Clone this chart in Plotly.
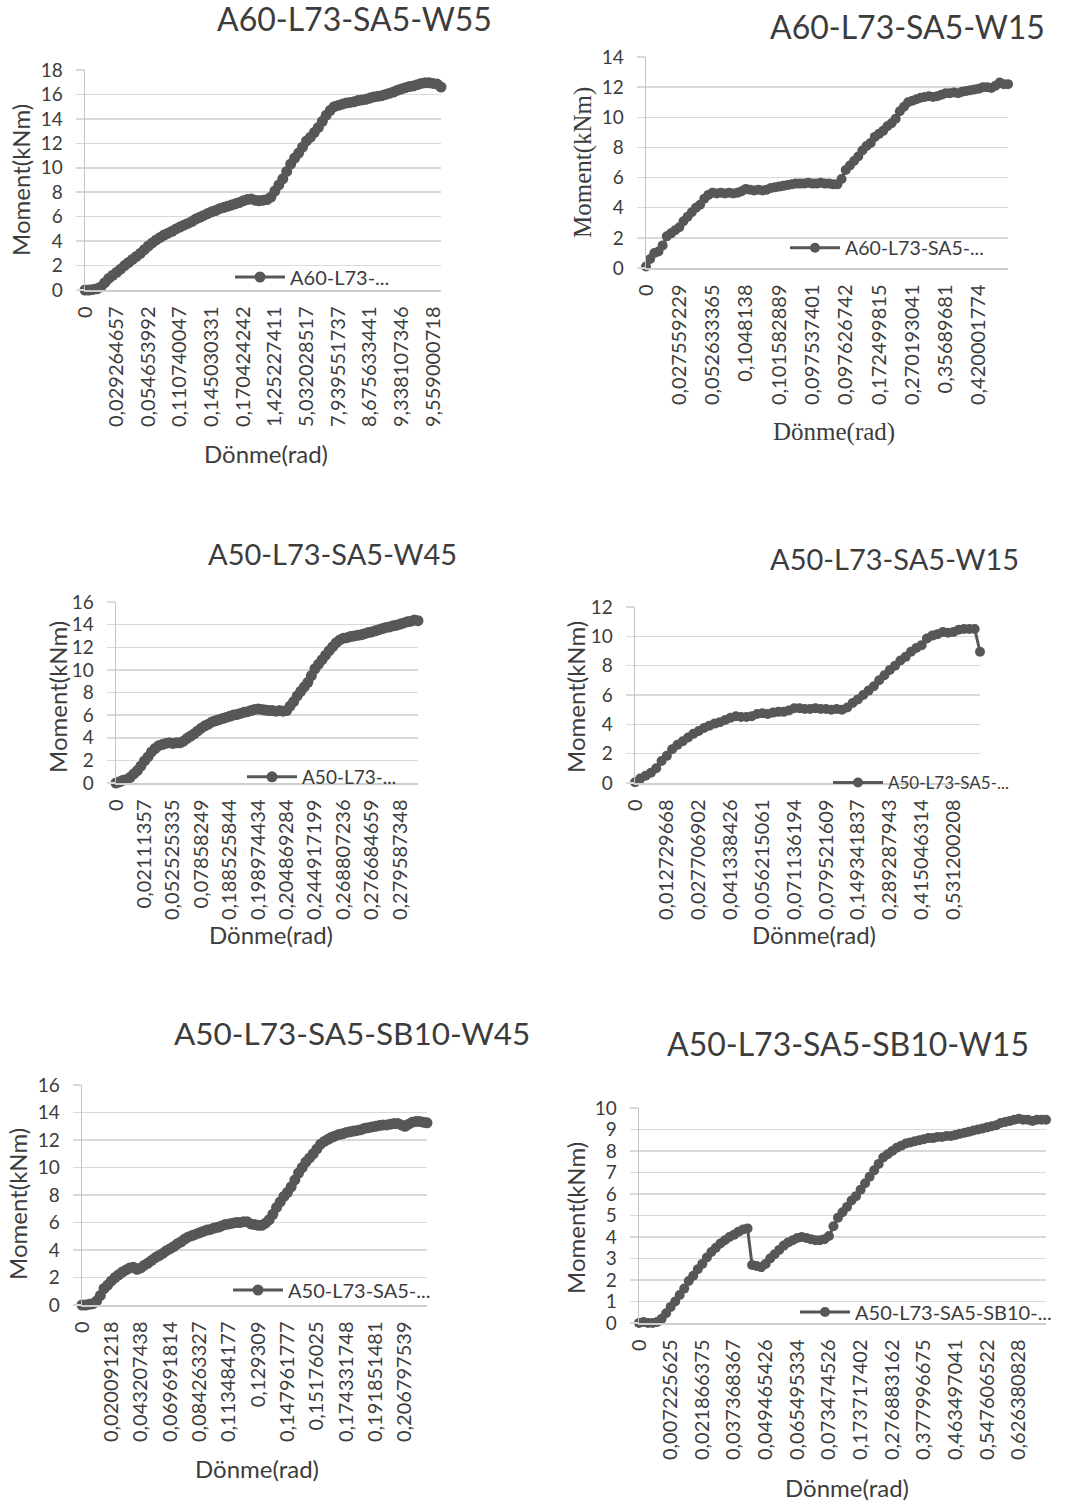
import plotly.graph_objects as go

W, H = 1066, 1505
GREY = "#575757"
GRID = "#d9d9d9"
TXT = "#3c3c3c"
SANS = "Lato"
SERIF = "Liberation Serif"

# ---------------- data ----------------
p1_title = "A60-L73-SA5-W55"
p1_legend = "A60-L73-..."
p1_ticklabels = ["0", "0,029264657", "0,054653992", "0,110740047", "0,145030331", "0,170424242",
                 "1,425227411", "5,032028517", "7,939551737", "8,675633441", "9,338107346", "9,559000718"]
p1_tickstep = 8
p1_moment = [0, 0, 0.05, 0.1, 0.25, 0.6, 0.95, 1.2, 1.45, 1.7,
             2.0, 2.25, 2.5, 2.75, 3.0, 3.3, 3.6, 3.85, 4.1, 4.3,
             4.5, 4.65, 4.8, 5.0, 5.15, 5.3, 5.45, 5.6, 5.8, 5.95,
             6.1, 6.25, 6.4, 6.5, 6.65, 6.75, 6.85, 6.95, 7.05, 7.15,
             7.3, 7.4, 7.45, 7.35, 7.3, 7.35, 7.4, 7.6, 8.1, 8.6,
             9.1, 9.7, 10.3, 10.8, 11.2, 11.7, 12.2, 12.5, 12.9, 13.3,
             13.8, 14.3, 14.7, 15.0, 15.1, 15.2, 15.3, 15.35, 15.4, 15.5,
             15.55, 15.6, 15.7, 15.8, 15.85, 15.9, 16.0, 16.1, 16.2, 16.35,
             16.45, 16.55, 16.65, 16.7, 16.8, 16.9, 16.95, 16.95, 16.9, 16.85,
             16.6]

p2_title = "A60-L73-SA5-W15"
p2_legend = "A60-L73-SA5-..."
p2_ticklabels = ["0", "0,027559229", "0,052633365", "0,1048138", "0,101582889", "0,097537401",
                 "0,097626742", "0,172499815", "0,270193041", "0,35689681", "0,420001774"]
p2_tickstep = 8
p2_moment = [0.1, 0.6, 1.0, 1.1, 1.5, 2.1, 2.3, 2.5, 2.7, 3.1,
             3.4, 3.7, 4.0, 4.2, 4.6, 4.85, 5.0, 4.95, 5.0, 4.95,
             5.0, 4.95, 5.0, 5.1, 5.25, 5.2, 5.15, 5.2, 5.15, 5.2,
             5.3, 5.35, 5.4, 5.45, 5.5, 5.55, 5.6, 5.6, 5.6, 5.65,
             5.6, 5.6, 5.65, 5.6, 5.6, 5.55, 5.55, 5.9, 6.5, 6.8,
             7.1, 7.4, 7.8, 8.1, 8.3, 8.7, 8.9, 9.1, 9.4, 9.6,
             9.9, 10.4, 10.7, 11.0, 11.1, 11.2, 11.3, 11.35, 11.4, 11.35,
             11.4, 11.5, 11.6, 11.6, 11.65, 11.6, 11.7, 11.75, 11.8, 11.85,
             11.9, 12.0, 12.0, 11.95, 12.1, 12.3, 12.2, 12.2]

p3_title = "A50-L73-SA5-W45"
p3_legend = "A50-L73-..."
p3_ticklabels = ["0", "0,02111357", "0,052525335", "0,07858249", "0,188525844", "0,198974434",
                 "0,204869284", "0,244917199", "0,268807236", "0,276684659", "0,279587348"]
p3_tickstep = 8
p3_moment = [0, 0.1, 0.25, 0.3, 0.5, 0.8, 1.1, 1.5, 1.95, 2.3,
             2.75, 3.05, 3.3, 3.4, 3.5, 3.55, 3.5, 3.55, 3.55, 3.7,
             3.95, 4.15, 4.35, 4.6, 4.85, 5.05, 5.2, 5.4, 5.5, 5.6,
             5.7, 5.8, 5.9, 6.0, 6.05, 6.15, 6.25, 6.3, 6.4, 6.5,
             6.55, 6.5, 6.45, 6.4, 6.4, 6.35, 6.4, 6.35, 6.4, 6.8,
             7.2, 7.7, 8.1, 8.5, 8.9, 9.5, 10.1, 10.5, 10.9, 11.3,
             11.7, 12.05, 12.4, 12.65, 12.8, 12.85, 12.95, 13.0, 13.05, 13.1,
             13.2, 13.3, 13.35, 13.45, 13.55, 13.65, 13.75, 13.8, 13.9, 13.95,
             14.05, 14.15, 14.25, 14.3, 14.4, 14.35]

p4_title = "A50-L73-SA5-W15"
p4_legend = "A50-L73-SA5-..."
p4_ticklabels = ["0", "0,012729668", "0,027706902", "0,041338426", "0,056215061", "0,071136194",
                 "0,079521609", "0,149341837", "0,289287943", "0,415046314", "0,531200208"]
p4_tickstep = 6
p4_moment = [0.05, 0.3, 0.5, 0.7, 1.0, 1.5, 1.85, 2.3, 2.6, 2.85,
             3.1, 3.35, 3.55, 3.75, 3.9, 4.05, 4.15, 4.3, 4.45, 4.55,
             4.5, 4.5, 4.55, 4.7, 4.75, 4.7, 4.8, 4.85, 4.85, 4.95,
             5.1, 5.1, 5.05, 5.05, 5.1, 5.05, 5.05, 5.0, 5.05, 5.0,
             5.15, 5.45, 5.7, 6.0, 6.3, 6.6, 7.0, 7.35, 7.7, 8.0,
             8.35, 8.6, 8.95, 9.2, 9.4, 9.85, 10.05, 10.15, 10.3, 10.25,
             10.3, 10.45, 10.5, 10.5, 10.5, 8.95]

p5_title = "A50-L73-SA5-SB10-W45"
p5_legend = "A50-L73-SA5-..."
p5_ticklabels = ["0", "0,020091218", "0,043207438", "0,069691814", "0,084263327", "0,113484177",
                 "0,129309", "0,147961777", "0,15176025", "0,174331748", "0,191851481", "0,206797539"]
p5_tickstep = 8
p5_moment = [0, 0, 0.05, 0.1, 0.3, 0.7, 1.2, 1.45, 1.75, 2.0,
             2.2, 2.4, 2.55, 2.7, 2.75, 2.6, 2.7, 2.9, 3.05, 3.25,
             3.45, 3.6, 3.75, 3.95, 4.1, 4.25, 4.45, 4.6, 4.8, 4.95,
             5.05, 5.15, 5.25, 5.35, 5.45, 5.5, 5.6, 5.65, 5.75, 5.85,
             5.9, 5.95, 6.0, 6.0, 6.05, 6.05, 5.9, 5.85, 5.8, 5.8,
             5.95, 6.2, 6.6, 7.1, 7.5, 7.9, 8.2, 8.6, 9.1, 9.6,
             10.0, 10.4, 10.7, 11.0, 11.35, 11.7, 11.9, 12.05, 12.2, 12.3,
             12.4, 12.45, 12.55, 12.6, 12.65, 12.7, 12.75, 12.85, 12.9, 12.95,
             13.0, 13.05, 13.1, 13.1, 13.15, 13.2, 13.2, 13.1, 13.0, 13.15,
             13.3, 13.35, 13.35, 13.3, 13.25]

p6_title = "A50-L73-SA5-SB10-W15"
p6_legend = "A50-L73-SA5-SB10-..."
p6_ticklabels = ["0", "0,007225625", "0,021866375", "0,037368367", "0,049465426", "0,065495334",
                 "0,073474526", "0,173717402", "0,276883162", "0,377996675", "0,463497041",
                 "0,547606522", "0,626380828"]
p6_tickstep = 7
p6_moment = [0, 0.05, 0, 0, 0.05, 0.2, 0.45, 0.75, 1.0, 1.3,
             1.6, 1.95, 2.2, 2.5, 2.75, 3.05, 3.3, 3.5, 3.7, 3.85,
             4.0, 4.1, 4.25, 4.35, 4.4, 2.7, 2.65, 2.6, 2.75, 3.0,
             3.2, 3.4, 3.6, 3.75, 3.85, 3.95, 4.0, 3.95, 3.9, 3.85,
             3.85, 3.9, 4.05, 4.5, 4.9, 5.15, 5.4, 5.7, 5.9, 6.2,
             6.5, 6.8, 7.1, 7.4, 7.7, 7.85, 8.0, 8.15, 8.25, 8.35,
             8.4, 8.45, 8.5, 8.55, 8.6, 8.6, 8.65, 8.65, 8.7, 8.7,
             8.75, 8.8, 8.85, 8.9, 8.95, 9.0, 9.05, 9.1, 9.15, 9.2,
             9.3, 9.35, 9.4, 9.45, 9.5, 9.45, 9.45, 9.4, 9.45, 9.45,
             9.45]

x_title = "Dönme(rad)"
y_title = "Moment(kNm)"

# ---------------- layout config (pixel boxes) ----------------
panels = [
    dict(title=p1_title, leg=p1_legend, labels=p1_ticklabels, step=p1_tickstep, y=p1_moment,
         ymax=18, dtick=2, box=(85, 441, 70, 290), t=(354, 18), tsize=32, yt=(20, 180), xt=(266, 453),
         lg=(235, 277), lsize=20, afont=SANS, msize=11),
    dict(title=p2_title, leg=p2_legend, labels=p2_ticklabels, step=p2_tickstep, y=p2_moment,
         ymax=14, dtick=2, box=(646, 1008, 57, 268), t=(907, 27), tsize=32, yt=(583, 163), xt=(834, 432),
         lg=(790, 248), lsize=19.5, afont=SERIF, msize=10),
    dict(title=p3_title, leg=p3_legend, labels=p3_ticklabels, step=p3_tickstep, y=p3_moment,
         ymax=16, dtick=2, box=(116, 418, 602, 783), t=(332, 553), tsize=29, yt=(57, 697), xt=(271, 935),
         lg=(247, 777), lsize=19, afont=SANS, msize=11),
    dict(title=p4_title, leg=p4_legend, labels=p4_ticklabels, step=p4_tickstep, y=p4_moment,
         ymax=12, dtick=2, box=(635, 980, 607, 783), t=(894, 558), tsize=29, yt=(575, 697), xt=(814, 935),
         lg=(833, 783), lsize=17, afont=SANS, msize=10),
    dict(title=p5_title, leg=p5_legend, labels=p5_ticklabels, step=p5_tickstep, y=p5_moment,
         ymax=16, dtick=2, box=(82, 427, 1085, 1305), t=(352, 1033), tsize=31.5, yt=(17, 1204), xt=(257, 1468),
         lg=(233, 1290), lsize=20, afont=SANS, msize=11),
    dict(title=p6_title, leg=p6_legend, labels=p6_ticklabels, step=p6_tickstep, y=p6_moment,
         ymax=10, dtick=1, box=(639, 1046, 1108, 1323), t=(848, 1043), tsize=32, yt=(575, 1218), xt=(847, 1487),
         lg=(800, 1312), lsize=20, afont=SANS, msize=10),
]


def px(x):
    return x / W


def py(y):
    return 1 - y / H


fig = go.Figure()
annotations = []
layout = {}

for n, p in enumerate(panels, start=1):
    sfx = "" if n == 1 else str(n)
    x0, x1, yt0, yb = p["box"]
    npts = len(p["y"])
    fig.add_trace(go.Scatter(
        x=list(range(npts)), y=p["y"], mode="lines+markers", name=p["leg"],
        xaxis="x" + sfx, yaxis="y" + sfx, legend="legend" + sfx,
        line=dict(color=GREY, width=3), marker=dict(color=GREY, size=p["msize"]),
        cliponaxis=False, hoverinfo="skip",
    ))
    layout["xaxis" + sfx] = dict(
        domain=[px(x0), px(x1)], range=[0, npts - 1], anchor="y" + sfx,
        tickmode="array", tickvals=[i * p["step"] for i in range(len(p["labels"]))],
        ticktext=p["labels"], tickangle=-90, showgrid=False, zeroline=False,
        showline=True, linecolor="#cfcfcf", linewidth=1.5, ticks="",
        ticklabelstandoff=7, tickfont=dict(family=SANS, size=20, color=TXT),
        automargin=False, fixedrange=True,
    )
    layout["yaxis" + sfx] = dict(
        domain=[py(yb), py(yt0)], range=[0, p["ymax"]], dtick=p["dtick"], anchor="x" + sfx,
        showgrid=True, gridcolor=GRID, gridwidth=1.5, zeroline=False,
        showline=True, linecolor="#c4c4c4", linewidth=1.5,
        ticks="outside", ticklen=8, tickcolor=GRID, tickwidth=1.5,
        ticklabelstandoff=9, tickfont=dict(family=SANS, size=19, color=TXT),
        automargin=False, fixedrange=True,
    )
    layout["legend" + sfx] = dict(
        x=px(p["lg"][0] - 5), y=py(p["lg"][1]), xanchor="left", yanchor="middle",
        bgcolor="rgba(0,0,0,0)", borderwidth=0, font=dict(family=SANS, size=p["lsize"], color=TXT),
        itemwidth=50, itemclick=False, itemdoubleclick=False,
    )
    annotations.append(dict(text=p["title"], x=px(p["t"][0]), y=py(p["t"][1]), xref="paper", yref="paper",
                            showarrow=False, xanchor="center", yanchor="middle",
                            font=dict(family=SANS, size=p["tsize"], color=TXT)))
    asize = 25 if p["afont"] == SERIF else 24
    annotations.append(dict(text=y_title, x=px(p["yt"][0]), y=py(p["yt"][1]), xref="paper", yref="paper",
                            showarrow=False, xanchor="center", yanchor="middle", textangle=-90,
                            font=dict(family=p["afont"], size=asize, color=TXT)))
    annotations.append(dict(text=x_title, x=px(p["xt"][0]), y=py(p["xt"][1]), xref="paper", yref="paper",
                            showarrow=False, xanchor="center", yanchor="middle",
                            font=dict(family=p["afont"], size=asize, color=TXT)))

fig.update_layout(
    width=W, height=H, margin=dict(l=0, r=0, t=0, b=0),
    paper_bgcolor="white", plot_bgcolor="white",
    annotations=annotations, showlegend=True, hovermode=False,
    **layout,
)

fig.write_html("out.html", config={"displayModeBar": False, "staticPlot": True},
               post_script="document.body.style.margin='0px';document.body.style.padding='0px';")
